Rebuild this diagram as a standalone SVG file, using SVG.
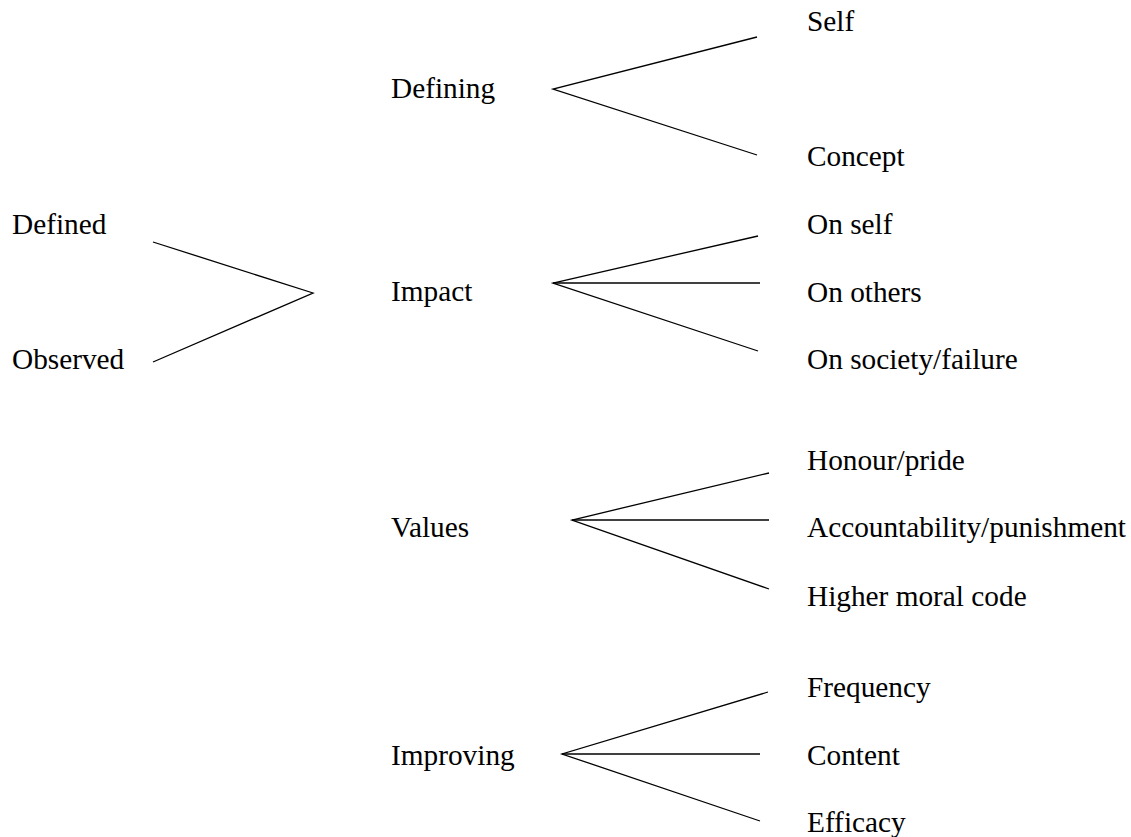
<svg xmlns="http://www.w3.org/2000/svg" width="1131" height="837" viewBox="0 0 1131 837">
<style>
text{font-family:"Liberation Serif","Times New Roman",serif;font-size:29.3px;fill:#000}
.c{fill:none;stroke:#000;stroke-width:1.3}
</style>
<rect width="1131" height="837" fill="#fff"/>
<g id="connectors">
<polyline class="c" points="153,242 313,293 153,362"/>
<polyline class="c" points="757,37 553,89 757,155"/>
<polyline class="c" points="758,236 553,283 758,351"/>
<line class="c" x1="553" y1="283" x2="760" y2="283"/>
<polyline class="c" points="769,473 572,520 769,589"/>
<line class="c" x1="572" y1="520" x2="769" y2="520"/>
<polyline class="c" points="768,692 562,754 760,821"/>
<line class="c" x1="562" y1="754" x2="760" y2="754"/>
</g>
<g id="n-defined"><text x="12" y="234">Defined</text></g>
<g id="n-observed"><text x="12" y="369">Observed</text></g>
<g id="n-defining"><text x="391" y="98">Defining</text></g>
<g id="n-impact"><text x="391" y="301">Impact</text></g>
<g id="n-values"><text x="391" y="537">Values</text></g>
<g id="n-improving"><text x="391" y="765">Improving</text></g>
<g id="n-self"><text x="807" y="31">Self</text></g>
<g id="n-concept"><text x="807" y="166">Concept</text></g>
<g id="n-onself"><text x="807" y="234">On self</text></g>
<g id="n-onothers"><text x="807" y="302">On others</text></g>
<g id="n-onsociety"><text x="807" y="369">On society/failure</text></g>
<g id="n-honour"><text x="807" y="470">Honour/pride</text></g>
<g id="n-account"><text x="807" y="537">Accountability/punishment</text></g>
<g id="n-higher"><text x="807" y="606">Higher moral code</text></g>
<g id="n-frequency"><text x="807" y="697">Frequency</text></g>
<g id="n-content"><text x="807" y="765">Content</text></g>
<g id="n-efficacy"><text x="807" y="832">Efficacy</text></g>
</svg>
